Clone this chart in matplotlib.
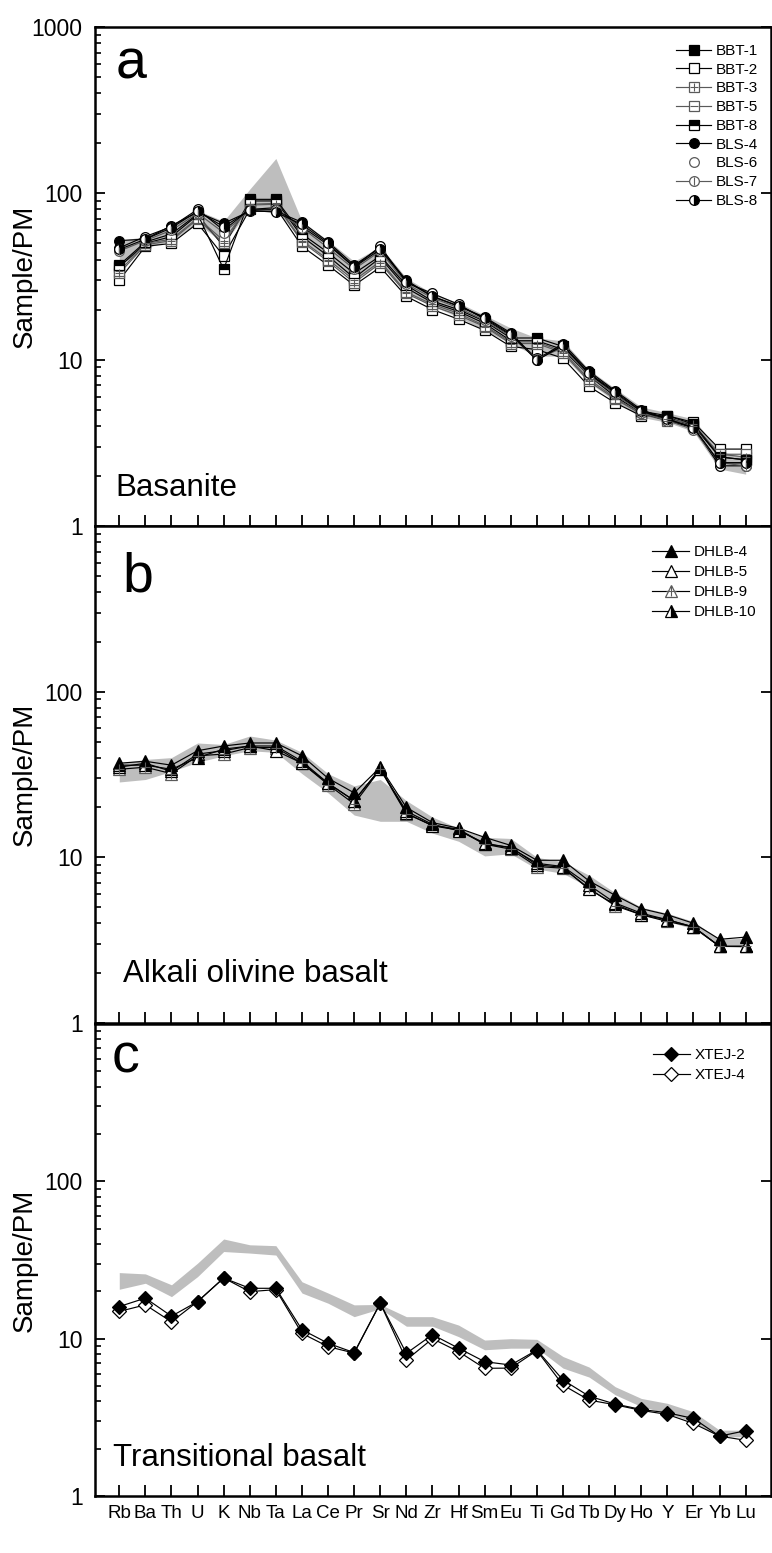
import matplotlib
matplotlib.use('Agg')
import matplotlib.pyplot as plt
from matplotlib.lines import Line2D

plt.rcParams['font.family'] = ['Liberation Sans', 'DejaVu Sans']

# ---------------- data ----------------
elements = ['Rb', 'Ba', 'Th', 'U', 'K', 'Nb', 'Ta', 'La', 'Ce', 'Pr', 'Sr', 'Nd', 'Zr',
            'Hf', 'Sm', 'Eu', 'Ti', 'Gd', 'Tb', 'Dy', 'Ho', 'Y', 'Er', 'Yb', 'Lu']

# panel a: basanite
bbt1 = [36, 50, 55, 74, 48, 90, 90, 55, 42, 31, 41, 27, 22, 19.5, 16.5, 13, 13, 11.5, 8.0, 6.0, 4.8, 4.5, 4.0, 2.6, 2.5]
bbt2 = [30, 48, 50, 66, 42, 80, 82, 48, 37, 28, 36, 24, 20, 17.5, 15, 12, 11.5, 10.2, 6.9, 5.5, 4.6, 4.6, 4.2, 2.9, 2.9]
bbt3 = [33, 49, 52, 70, 50, 85, 86, 51, 39, 29, 38, 25, 21, 18.5, 15.8, 12.5, 12.5, 11, 7.4, 5.8, 4.7, 4.4, 4.1, 2.7, 2.6]
bbt5 = [34, 50, 53, 71, 52, 86, 87, 52, 40, 30, 39, 25.5, 21.5, 19, 16, 12.8, 12.8, 11.2, 7.6, 5.9, 4.7, 4.3, 4.0, 2.7, 2.7]
bbt8 = [37, 51, 57, 75, 35, 92, 92, 57, 44, 33, 42, 28, 22.5, 20, 17, 13.5, 13.5, 12, 8.2, 6.2, 4.9, 4.6, 4.1, 2.6, 2.5]
bls4 = [52, 53, 64, 77, 66, 78, 78, 67, 51, 37, 47, 30, 24, 21, 18, 14.5, 10, 12.5, 8.5, 6.5, 5.0, 4.4, 3.9, 2.4, 2.4]
bls6 = [47, 55, 63, 80, 60, 80, 80, 63, 49, 36, 48, 29, 25, 21.5, 17.5, 14, 10.2, 12.0, 8.2, 6.3, 4.8, 4.3, 3.9, 2.3, 2.3]
bls7 = [45, 52, 60, 76, 58, 79, 79, 62, 47, 35, 45, 28.5, 23.5, 20.5, 17.2, 13.8, 10.1, 11.8, 8.0, 6.2, 4.8, 4.3, 3.8, 2.4, 2.3]
bls8 = [46, 53, 62, 78, 63, 79, 77, 65, 50, 36, 46, 29.5, 24, 21, 17.8, 14.2, 9.9, 12.2, 8.3, 6.4, 4.9, 4.4, 3.9, 2.4, 2.4]
field_a_low = [37, 47, 52, 66, 50, 80, 80, 52, 40, 30, 38, 25, 21, 18, 15, 12.5, 10.5, 10.5, 7.3, 5.6, 4.5, 4.2, 3.7, 2.2, 2.05]
field_a_high = [52, 55, 64, 79, 68, 106, 162, 68, 52, 39, 48, 31, 25, 22, 18.5, 15.5, 13.5, 13, 8.7, 6.7, 5.2, 4.8, 4.4, 2.8, 2.6]

# panel b: alkali olivine basalt
dhlb4 = [37, 38, 36, 44, 47, 49, 49, 41, 30, 24.5, 35, 20, 16.2, 15, 13.2, 11.8, 9.6, 9.6, 7.2, 5.9, 4.9, 4.5, 4.0, 3.2, 3.3]
dhlb5 = [35, 37, 33, 42, 44, 47, 44, 37, 28, 22, 34.5, 18.5, 15.5, 14.6, 12, 11.5, 9.0, 8.7, 6.4, 5.2, 4.5, 4.2, 3.8, 2.9, 2.9]
dhlb9 = [34, 35, 32, 41, 42, 46, 46, 37, 27.5, 21, 34, 18.3, 15.6, 14.8, 12, 11.2, 8.8, 8.6, 6.5, 5.1, 4.5, 4.1, 3.8, 2.9, 2.9]
dhlb10 = [36, 36, 34, 40, 45, 47, 47, 38, 28, 22, 34, 19, 15.8, 14.5, 12.2, 11.4, 9.2, 8.8, 6.8, 5.3, 4.6, 4.2, 3.8, 2.9, 2.9]
field_b_low = [28.5, 29.5, 33, 37.5, 41, 44, 43, 32, 24.5, 18, 16.5, 16.5, 14, 12.5, 10.2, 10.5, 8.5, 8.0, 6.6, 5.2, 4.5, 4.1, 3.7, 2.9, 2.85]
field_b_high = [37, 39, 40, 49, 48, 54, 51, 43, 32, 27, 29.5, 22, 17.5, 15, 13.2, 13, 10, 9.4, 7.8, 6.1, 5.0, 4.6, 4.1, 3.2, 3.25]

# panel c: transitional basalt
xtej2 = [16.0, 18.1, 13.9, 17.2, 24.3, 20.9, 20.9, 11.4, 9.35, 8.15, 16.8, 8.07, 10.6, 8.7, 7.14, 6.8, 8.47, 5.46, 4.31, 3.84, 3.55, 3.38, 3.11, 2.4, 2.6]
xtej4 = [14.9, 16.4, 12.8, 17.2, 24.3, 19.9, 20.5, 10.8, 8.9, 8.1, 16.8, 7.32, 10.0, 8.27, 6.48, 6.5, 8.4, 5.07, 4.07, 3.8, 3.5, 3.3, 2.89, 2.4, 2.26]
field_c_low = [20.6, 22.5, 18.5, 24.8, 35.8, 35, 34, 19.5, 16.8, 13.8, 15.5, 12, 12, 10.3, 8.5, 8.7, 8.7, 6.5, 5.7, 4.4, 3.7, 3.35, 2.96, 2.38, 2.38]
field_c_high = [26.3, 25.8, 22, 30.2, 43, 39.5, 39, 23, 19.5, 16.4, 16.5, 13.8, 13.8, 12.2, 9.8, 10.0, 9.9, 7.7, 6.6, 4.95, 4.17, 3.88, 3.43, 2.62, 2.62]

# ---------------- figure ----------------
FIELD = '#bebebe'
GREY = '#5a5a5a'
fig = plt.figure(figsize=(7.72, 15.53), dpi=100)
L, W = 95 / 772, 676 / 772
ax_a = fig.add_axes([L, 1 - 526 / 1553, W, 499 / 1553])
ax_b = fig.add_axes([L, 1 - 1023 / 1553, W, 497 / 1553])
ax_c = fig.add_axes([L, 1 - 1496 / 1553, W, 472 / 1553])
x = list(range(len(elements)))


def style(ax, top_label, show_x):
    ax.set_yscale('log')
    ax.set_ylim(1, 1000)
    ax.set_xlim(-0.93, 24.97)
    ax.set_xticks(x)
    ax.set_xticklabels(elements if show_x else [''] * len(x))
    ax.set_yticks([1, 10, 100, 1000], labels=['1', '10', '100', '1000' if top_label else ''])
    ax.tick_params(axis='x', which='major', direction='in', length=8, width=1.3,
                   labelsize=13.5, pad=6.5, top=False, labelbottom=show_x)
    ax.tick_params(axis='y', which='major', direction='in', length=7.5, width=1.3,
                   labelsize=16.5, pad=9, left=True, right=True)
    ax.tick_params(axis='y', which='minor', direction='in', length=4, width=1.2,
                   left=True, right=False)
    ax.tick_params(axis='x', which='minor', bottom=False, top=False)
    for s in ax.spines.values():
        s.set_linewidth(1.8)
    ax.set_ylabel('Sample/PM', fontsize=20)
    ax.yaxis.set_label_coords(-0.084, 0.5)


def series(ax, vals, marker, mfc, mec='k', lc='k', overlay=None, ms=7, **kw):
    ax.plot(x, vals, color=lc, lw=0.85, marker=marker, ms=ms, mfc=mfc, mec=mec,
            mew=0.9, zorder=3, **kw)
    handle = Line2D([], [], color=lc, lw=0.85, marker=marker, ms=ms, mfc=mfc, mec=mec,
                    mew=0.9, **kw)
    if overlay is not None:
        ax.plot(x, vals, ls='none', marker=overlay, ms=ms * 0.9, mec=mec, mew=0.8, zorder=4)
        ov = Line2D([], [], ls='none', marker=overlay, ms=ms * 0.9, mec=mec, mew=0.8)
        return (handle, ov)
    return handle


# ---- panel a ----
style(ax_a, True, False)
ax_a.fill_between(x, field_a_low, field_a_high, color=FIELD, lw=0, zorder=1)
h = []
h.append(series(ax_a, bbt1, 's', 'k'))
h.append(series(ax_a, bbt2, 's', 'w'))
h.append(series(ax_a, bbt3, 's', 'w', mec=GREY, lc=GREY, overlay='+'))
h.append(series(ax_a, bbt5, 's', 'w', mec=GREY, lc=GREY, overlay='_'))
h.append(series(ax_a, bbt8, 's', 'k', fillstyle='top', markerfacecoloralt='w'))
h.append(series(ax_a, bls4, 'o', 'k'))
series(ax_a, bls6, 'o', 'w')
h.append(Line2D([], [], ls='none', marker='o', ms=7, mfc='w', mec=GREY, mew=0.9))
h.append(series(ax_a, bls7, 'o', 'w', mec=GREY, lc=GREY, overlay='|'))
h.append(series(ax_a, bls8, 'o', 'k', fillstyle='right', markerfacecoloralt='w'))
labels_a = ['BBT-1', 'BBT-2', 'BBT-3', 'BBT-5', 'BBT-8', 'BLS-4', 'BLS-6', 'BLS-7', 'BLS-8']
ax_a.legend(h, labels_a, loc='upper right', bbox_to_anchor=(0.981, 0.966), frameon=False,
            fontsize=11, handlelength=2.3, handletextpad=0.3, labelspacing=0.31,
            borderpad=0, borderaxespad=0, numpoints=1)
ax_a.text(0.03, 0.896, 'a', transform=ax_a.transAxes, fontsize=40, ha='left', va='baseline')
ax_a.text(0.03, 0.06, 'Basanite', transform=ax_a.transAxes, fontsize=22.5, ha='left', va='baseline')

# ---- panel b ----
style(ax_b, False, False)
ax_b.fill_between(x, field_b_low, field_b_high, color=FIELD, lw=0, zorder=1)
hb = []
hb.append(series(ax_b, dhlb9, '^', 'w', mec=GREY, overlay='+', ms=8))
hb.append(series(ax_b, dhlb5, '^', 'w', ms=8))
hb.append(series(ax_b, dhlb10, '^', 'k', fillstyle='right', markerfacecoloralt='w', ms=8))
hb.append(series(ax_b, dhlb4, '^', 'k', ms=8))
hb = [hb[3], hb[1], hb[0], hb[2]]
ax_b.legend(hb, ['DHLB-4', 'DHLB-5', 'DHLB-9', 'DHLB-10'], loc='upper right',
            bbox_to_anchor=(0.978, 0.962), frameon=False, fontsize=11, handlelength=2.4,
            handletextpad=0.3, labelspacing=0.4, borderpad=0, borderaxespad=0, numpoints=1)
ax_b.text(0.041, 0.868, 'b', transform=ax_b.transAxes, fontsize=40, ha='left', va='baseline')
ax_b.text(0.042, 0.0825, 'Alkali olivine basalt', transform=ax_b.transAxes, fontsize=22.5,
          ha='left', va='baseline')

# ---- panel c ----
style(ax_c, False, True)
ax_c.fill_between(x, field_c_low, field_c_high, color=FIELD, lw=0, zorder=1)
hc = []
hc.append(series(ax_c, xtej4, 'D', 'w', ms=7.5))
hc.append(series(ax_c, xtej2, 'D', 'k', ms=7.5))
ax_c.legend([hc[1], hc[0]], ['XTEJ-2', 'XTEJ-4'], loc='upper right',
            bbox_to_anchor=(0.9615, 0.949), frameon=False, fontsize=11, handlelength=2.4,
            handletextpad=0.3, labelspacing=0.4, borderpad=0, borderaxespad=0, numpoints=1)
ax_c.text(0.025, 0.898, 'c', transform=ax_c.transAxes, fontsize=40, ha='left', va='baseline')
ax_c.text(0.027, 0.0636, 'Transitional basalt', transform=ax_c.transAxes, fontsize=22.5,
          ha='left', va='baseline')

fig.savefig('out.png', dpi=100, facecolor='white')
